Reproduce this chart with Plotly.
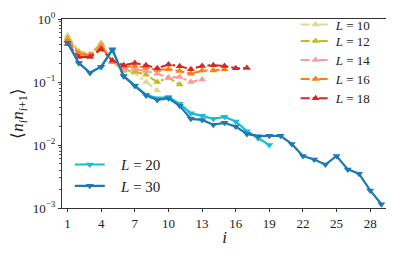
import plotly.graph_objects as go

# ---- data ----
i30 = list(range(1, 30))
L30 = [0.42, 0.20, 0.14, 0.175, 0.33, 0.123, 0.087, 0.061, 0.052, 0.055,
       0.042, 0.026, 0.025, 0.021, 0.0225, 0.0196, 0.015, 0.0138, 0.014, 0.014,
       0.0104, 0.0067, 0.0059, 0.0049, 0.0067, 0.0041, 0.0035, 0.0019, 0.00115]
i20 = list(range(1, 20))
L20 = [0.42, 0.20, 0.14, 0.175, 0.32, 0.125, 0.088, 0.063, 0.055, 0.058,
       0.045, 0.032, 0.029, 0.026, 0.028, 0.0236, 0.0166, 0.0128, 0.0100]

i10 = list(range(1, 10))
L10 = [0.55, 0.31, 0.28, 0.42, 0.21, 0.147, 0.138, 0.10, 0.073]
i12 = list(range(1, 12))
L12 = [0.50, 0.30, 0.27, 0.40, 0.21, 0.155, 0.147, 0.13, 0.10, 0.117, 0.091]
i14 = list(range(1, 14))
L14 = [0.47, 0.29, 0.27, 0.38, 0.21, 0.16, 0.16, 0.15, 0.135, 0.117, 0.12, 0.10, 0.11]
i16 = list(range(1, 16))
L16 = [0.45, 0.28, 0.26, 0.36, 0.21, 0.175, 0.18, 0.17, 0.155, 0.16, 0.15,
       0.135, 0.152, 0.152, 0.16]
i18 = list(range(1, 18))
L18 = [0.40, 0.25, 0.25, 0.33, 0.22, 0.185, 0.20, 0.185, 0.165, 0.19, 0.178,
       0.16, 0.18, 0.185, 0.18, 0.165, 0.167]

xticks = [1, 4, 7, 10, 13, 16, 19, 22, 25, 28]
yticks = [1e-3, 1e-2, 1e-1, 1]
yticktext = ["10<sup>−3</sup>", "10<sup>−2</sup>", "10<sup>−1</sup>", "10<sup>0</sup>"]

FONT = "Liberation Serif, Times New Roman, serif"

fig = go.Figure()

# (x, y, colour, label, legend id, legend row centre in plot px from top)
short = [
    (i10, L10, "#dbdb8d", "10", "legend", None),
    (i12, L12, "#bcbd22", "12", "legend2", 23),
    (i14, L14, "#ff9896", "14", "legend3", 43),
    (i16, L16, "#ff7f0e", "16", "legend4", 63),
    (i18, L18, "#d62728", "18", "legend5", 83),
]
legends = {}
for xs, ys, col, lab, lg, py in short:
    fig.add_trace(go.Scatter(
        x=xs, y=ys, mode="lines+markers", name=f"<i>L</i> = {lab}",
        line=dict(color=col, width=2, dash="dashdot"),
        marker=dict(symbol="triangle-up", size=7, color=col),
        legend=lg,
    ))
    if py is None:
        legends[lg] = dict(x=0.719, y=1.05, xanchor="left", yanchor="top",
                           bgcolor="rgba(0,0,0,0)", font=dict(size=13, family=FONT),
                           itemwidth=30)
    else:
        legends[lg] = dict(x=0.719, y=1 - py / 198, xanchor="left", yanchor="middle",
                           bgcolor="rgba(0,0,0,0)", font=dict(size=13, family=FONT),
                           itemwidth=30)

for xs, ys, col, lab, lg, py in [(i20, L20, "#17becf", "20", "legend6", 152.7),
                                 (i30, L30, "#1f77b4", "30", "legend7", 175)]:
    fig.add_trace(go.Scatter(
        x=xs, y=ys, mode="lines+markers",
        name=f"&nbsp;&nbsp;&nbsp;<i>L</i> = {lab}",
        line=dict(color=col, width=2.2),
        marker=dict(symbol="triangle-down", size=7, color=col),
        legend=lg,
    ))
    legends[lg] = dict(x=0.024, y=1 - py / 198, xanchor="left", yanchor="middle",
                       bgcolor="rgba(0,0,0,0)", font=dict(size=15, family=FONT),
                       itemwidth=30)

minor_y = [m * 10 ** e for e in (-3, -2, -1) for m in range(2, 10)]

fig.update_layout(
    width=386, height=246,
    margin=dict(l=54, r=7, t=2, b=46),
    paper_bgcolor="white", plot_bgcolor="white",
    font=dict(family=FONT, size=13, color="#222"),
    showlegend=True,
    **legends,
    xaxis=dict(range=[0.5, 29.5], tickvals=xticks, ticks="outside",
               ticklen=3, tickcolor="#333", showline=True, linecolor="#333",
               linewidth=1, mirror=True, showgrid=False, zeroline=False,
               tickfont=dict(size=13, family=FONT),
               title=dict(text="<i>i</i>", font=dict(size=17, family=FONT), standoff=1)),
    yaxis=dict(type="log", range=[-3, 0], tickvals=yticks, ticktext=yticktext,
               ticks="outside", ticklen=3, tickcolor="#333", showline=True,
               linecolor="#333", linewidth=1, mirror=True, showgrid=False,
               zeroline=False, tickfont=dict(size=13, family=FONT),
               ticklabeloverflow="allow",
               minor=dict(tickvals=minor_y, ticks="outside", ticklen=2,
                          tickcolor="#555", showgrid=False),
               title=dict(text="⟨<i>n</i><sub><i>i</i></sub><i>n</i><sub><i>i</i>+1</sub>⟩",
                          font=dict(size=17, family=FONT), standoff=6)),
)

fig.write_html("out.html")
